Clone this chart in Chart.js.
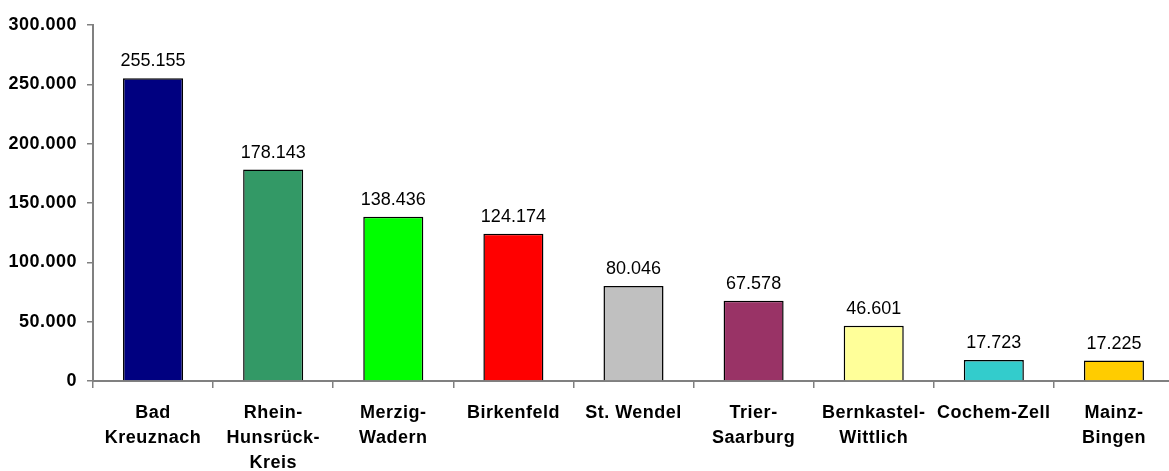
<!DOCTYPE html>
<html>
<head>
<meta charset="utf-8">
<script src="https://cdn.jsdelivr.net/npm/chart.js@4.4.1/dist/chart.umd.min.js"></script>
<style>
  html, body { margin: 0; padding: 0; background: #fff; overflow: hidden; }
  #wrap { width: 1174px; height: 471px; position: relative; }
</style>
</head>
<body>
<div id="wrap"><canvas id="chart"></canvas></div>
<script>
// values
const districts = [
  ["Bad", "Kreuznach"],
  ["Rhein-", "Hunsrück-", "Kreis"],
  ["Merzig-", "Wadern"],
  "Birkenfeld",
  "St. Wendel",
  ["Trier-", "Saarburg"],
  ["Bernkastel-", "Wittlich"],
  "Cochem-Zell",
  ["Mainz-", "Bingen"]
];
const inhabitants = [255155, 178143, 138436, 124174, 80046, 67578, 46601, 17723, 17225];
const barColors = ["#000080", "#339966", "#00FF00", "#FF0000", "#C0C0C0", "#993366", "#FFFF99", "#33CCCC", "#FFCC00"];
const yMax = 300000;
const yStep = 50000;

const FONT = '"Liberation Sans", Arial, sans-serif';

// 255155 -> "255.155"
const fmt = (v) => String(Math.round(v)).replace(/\B(?=(\d{3})+(?!\d))/g, ".");

// letter spacing for the axis labels only, off again before the bars
const spacing = {
  id: "spacing",
  beforeDraw(chart) { chart.ctx.letterSpacing = "0.5px"; },
  beforeDatasetsDraw(chart) { chart.ctx.letterSpacing = "0px"; }
};

// value labels above each bar
const valueLabels = {
  id: "valueLabels",
  afterDatasetsDraw(chart) {
    const ctx = chart.ctx;
    const meta = chart.getDatasetMeta(0);
    ctx.save();
    ctx.letterSpacing = "0px";
    ctx.font = "18px " + FONT;
    ctx.fillStyle = "#000";
    ctx.textAlign = "center";
    ctx.textBaseline = "alphabetic";
    meta.data.forEach((bar, i) => {
      ctx.fillText(fmt(inhabitants[i]), bar.x, bar.y - 12);
    });
    ctx.restore();
  }
};

const ctx = document.getElementById("chart").getContext("2d");
new Chart(ctx, {
  type: "bar",
  data: {
    labels: districts,
    datasets: [{
      data: inhabitants,
      backgroundColor: barColors,
      borderColor: "#000",
      borderWidth: 1.5,
      barPercentage: 0.5,
      categoryPercentage: 1
    }]
  },
  options: {
    responsive: true,
    maintainAspectRatio: false,
    animation: false,
    layout: { padding: { top: 25, right: 0, left: 0, bottom: 0 } },
    plugins: {
      legend: { display: false },
      tooltip: { enabled: false }
    },
    scales: {
      x: {
        afterFit(scale) { scale.height = 90; },
        grid: {
          offset: true,
          drawOnChartArea: false,
          drawTicks: true,
          tickLength: 7,
          color: "#808080",
          lineWidth: 1.5
        },
        border: { color: "#808080", width: 2 },
        ticks: {
          maxRotation: 0,
          autoSkip: false,
          padding: 12,
          color: "#000",
          font: { family: FONT, size: 18, weight: "bold", lineHeight: 1.4 }
        }
      },
      y: {
        min: 0,
        max: yMax,
        afterFit(scale) { scale.width = 93; },
        grid: {
          drawOnChartArea: false,
          drawTicks: true,
          tickLength: 6,
          color: "#808080",
          lineWidth: 1.5
        },
        border: { color: "#808080", width: 2 },
        ticks: {
          stepSize: yStep,
          padding: 10,
          color: "#000",
          font: { family: FONT, size: 18, weight: "bold" },
          callback: (v) => fmt(v)
        }
      }
    }
  },
  plugins: [spacing, valueLabels]
});
</script>
</body>
</html>
